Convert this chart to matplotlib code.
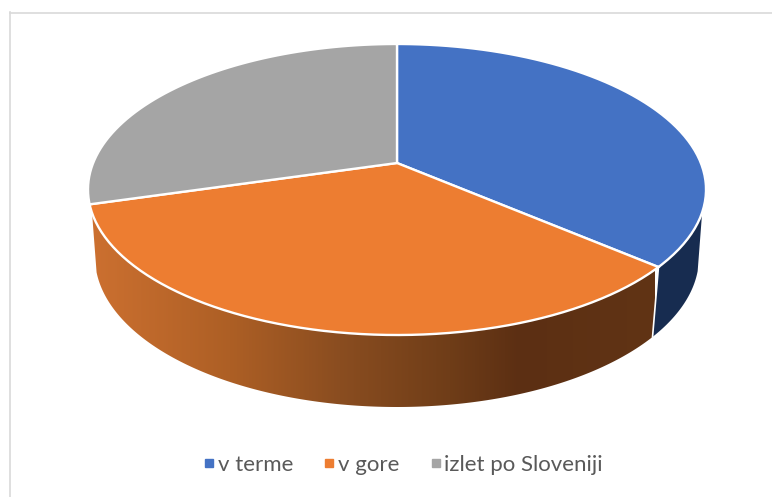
import numpy as np
import matplotlib
matplotlib.use("Agg")
import matplotlib.pyplot as plt
from matplotlib.path import Path
from matplotlib.patches import PathPatch
from matplotlib.lines import Line2D
from matplotlib.transforms import Transform, Affine2D
from matplotlib.colors import LinearSegmentedColormap

categories = ["v terme", "v gore", "izlet po Sloveniji"]
values = [36.3, 34.2, 29.5]
colors = ["#4472C4", "#ED7D31", "#A5A5A5"]

W, H = 772, 497
CX, CY, RX, RY = 397, 189.5, 309, 145.5  # top rim ellipse (px)
APEX = 26.5 / 145.5                      # perspective shift of the pie centre
BRX, BRY, BCY = 302, 150, 257            # bottom rim ellipse (px)

s = np.sqrt(1 - APEX ** 2)


def persp(xy):
    xy = np.asarray(xy, float)
    u, v = xy[:, 0], xy[:, 1]
    d = 1 + APEX * v
    return np.column_stack([u * s / d, (v + APEX) / d])


class Persp(Transform):
    input_dims = output_dims = 2
    is_affine = False
    has_inverse = False

    def transform_non_affine(self, values):
        return persp(values)

    def transform_path_non_affine(self, path):
        scaled = path.transformed(Affine2D().scale(600))
        poly = scaled.to_polygons(closed_only=False)[0] / 600
        return Path(persp(poly))


fig = plt.figure(figsize=(W / 100, H / 100), dpi=100, facecolor="white")
ax = fig.add_axes([0, 0, 1, 1])

wedges, _ = ax.pie(values, colors=colors, startangle=90, counterclock=False,
                   wedgeprops=dict(edgecolor="white", linewidth=1.7, zorder=5))
tr = Persp() + ax.transData
for w in wedges:
    w.set_transform(tr)

ax.set_aspect("auto")
ax.set_xlim(-CX / RX, (W - CX) / RX)
ax.set_ylim((CY - H) / RY, CY / RY)


def wall_path(a0, a1):
    ang = np.radians(np.linspace(a0, a1, 300))
    pts = persp(np.column_stack([np.sin(ang), np.cos(ang)]))
    top = pts[pts[:, 1] <= -0.155]
    bot = pts[pts[:, 1] <= -0.087]
    bx = bot[:, 0] * BRX / RX
    by = (CY - BCY + BRY * bot[:, 1]) / RY
    return np.vstack([top, np.column_stack([bx, by])[::-1]])


edges = np.cumsum([0] + values) / sum(values) * 360

# blue wall
pb = wall_path(edges[0], edges[1])
ax.add_patch(PathPatch(Path(np.vstack([pb, pb[:1]]), closed=True), fc="#172C50",
                       ec="none", zorder=2))

# orange wall with horizontal shading
po = wall_path(edges[1], edges[2])
x0, x1 = 91, 655
stops = [(91, "#CC7030"), (230, "#AD5F25"), (340, "#8A4D20"), (450, "#6F3D18"),
         (520, "#5C2F13"), (655, "#613415")]
cm = LinearSegmentedColormap.from_list("wall", [((x - x0) / (x1 - x0), c) for x, c in stops])
im = ax.imshow(np.linspace(0, 1, 256)[None, :], cmap=cm, aspect="auto", zorder=2,
               extent=[(x0 - CX) / RX, (x1 - CX) / RX, (CY - 420) / RY, (CY - 190) / RY])
clip = PathPatch(Path(np.vstack([po, po[:1]]), closed=True), transform=ax.transData,
                 fc="none", ec="none")
ax.add_patch(clip)
im.set_clip_path(clip)

# white edge between the walls
ang = np.radians(edges[1])
p = persp(np.array([[np.sin(ang), np.cos(ang)]]))[0]
ax.plot([p[0], p[0] * BRX / RX], [p[1], (CY - BCY + BRY * p[1]) / RY],
        color="white", lw=1.2, zorder=3)

ax.set_xlim(-CX / RX, (W - CX) / RX)
ax.set_ylim((CY - H) / RY, CY / RY)

# chart frame
fig.add_artist(Line2D([9.5 / W, 9.5 / W], [0, 1 - 12 / H], color="#D9D9D9", lw=1.2))
fig.add_artist(Line2D([9.5 / W, 1], [1 - 12.5 / H, 1 - 12.5 / H], color="#D9D9D9", lw=1.2))

handles = [Line2D([], [], ls="none", marker="s", ms=5.8, color=c) for c in colors]
fig.legend(handles, categories, loc="center", bbox_to_anchor=(403 / W, 1 - 465 / H),
           ncol=3, frameon=False, handlelength=0.55, handletextpad=0.12, columnspacing=1.35,
           prop=dict(family="Lato", size=16), labelcolor="#595959")

fig.savefig("out.png", dpi=100)
